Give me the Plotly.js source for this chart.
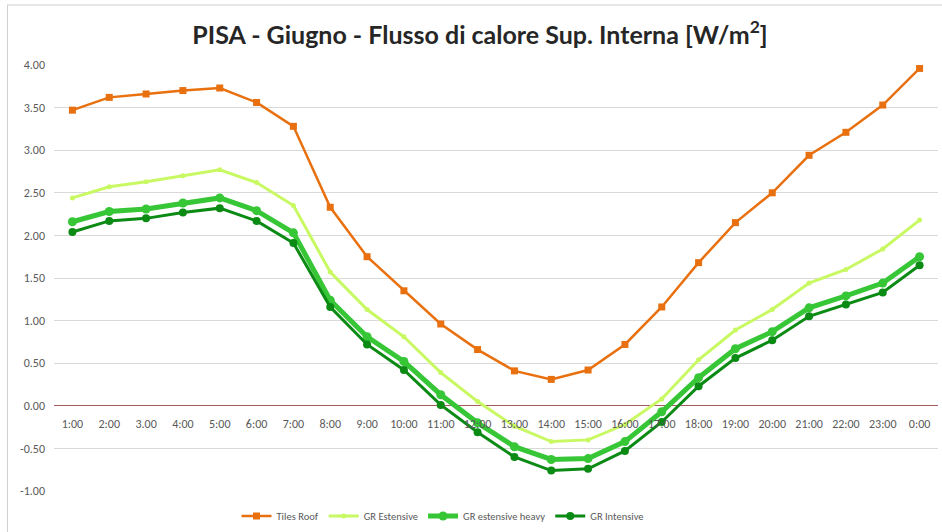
<!DOCTYPE html>
<html>
<head>
<meta charset="utf-8">
<script src="https://cdn.plot.ly/plotly-3.0.1.min.js"></script>
<style>html,body{margin:0;padding:0;background:#fff;}#chart{width:942px;height:532px;}</style>
</head>
<body>
<div id="chart"></div>
<script>
var hours = ["1:00","2:00","3.00","4:00","5:00","6:00","7:00","8:00","9:00","10:00","11:00","12:00","13:00","14:00","15:00","16:00","17:00","18:00","19:00","20:00","21:00","22:00","23:00","0:00"];
var tilesRoof = [3.47,3.62,3.66,3.70,3.73,3.56,3.28,2.33,1.75,1.35,0.96,0.66,0.41,0.31,0.42,0.72,1.16,1.68,2.15,2.50,2.94,3.21,3.53,3.96];
var grEstensive = [2.44,2.57,2.63,2.70,2.77,2.62,2.35,1.57,1.13,0.81,0.39,0.05,-0.24,-0.42,-0.40,-0.22,0.08,0.54,0.89,1.13,1.44,1.60,1.84,2.18];
var grEstensiveHeavy = [2.16,2.28,2.31,2.38,2.44,2.29,2.03,1.24,0.81,0.52,0.13,-0.20,-0.48,-0.63,-0.62,-0.42,-0.07,0.33,0.67,0.87,1.15,1.29,1.44,1.75];
var grIntensive = [2.04,2.17,2.20,2.27,2.32,2.17,1.91,1.16,0.72,0.42,0.01,-0.31,-0.60,-0.76,-0.74,-0.53,-0.19,0.23,0.56,0.77,1.05,1.19,1.33,1.65];
var yTicks = [4,3.5,3,2.5,2,1.5,1,0.5,0,-0.5,-1];
var yTickText = ["4.00","3.50","3.00","2.50","2.00","1.50","1.00","0.50","0.00","-0.50","-1.00"];

function series(name, y, color, width, symbol, size) {
  return {x: hours, y: y, name: name, type: 'scatter', mode: 'lines+markers',
    line: {color: color, width: width}, marker: {color: color, symbol: symbol, size: size}};
}
var data = [
  series('Tiles Roof', tilesRoof, '#e8700f', 2.5, 'square', 7),
  series('GR Estensive', grEstensive, '#c8f862', 3, 'circle', 5),
  series('GR estensive heavy', grEstensiveHeavy, '#36c636', 5, 'circle', 9),
  series('GR Intensive', grIntensive, '#0b8a14', 3, 'circle', 8)
];
var W = 942, H = 532, L = 54, R = 4, T = 65, B = 41;
var pw = W - L - R, ph = H - T - B;
function px(x){ return (x - L) / pw; }
function py(y){ return (H - B - y) / ph; }
var layout = {
  width: W, height: H,
  margin: {l: L, r: R, t: T, b: B, pad: 0, autoexpand: false},
  paper_bgcolor: '#fff', plot_bgcolor: '#fff',
  font: {family: 'Carlito, Lato, "Liberation Sans", sans-serif', color: '#595959', size: 12},
  title: {text: 'PISA - Giugno - Flusso di calore Sup. Interna [W/m<sup>2</sup>]',
    font: {family: 'Lato, "Open Sans", sans-serif', size: 25, color: '#262626', weight: 700},
    x: 480 / W, xref: 'container', xanchor: 'center', y: 1 - 35 / H, yref: 'container', yanchor: 'middle'},
  xaxis: {type: 'category', range: [-0.5, 23.5], anchor: 'free', position: 0.2, showgrid: false, showline: false, zeroline: false,
    ticks: '', tickfont: {size: 12, color: '#595959'}, ticklabelstandoff: 9, fixedrange: true},
  yaxis: {range: [-1, 4], tickvals: yTicks, ticktext: yTickText, showgrid: true, gridcolor: '#d9d9d9', gridwidth: 1,
    zeroline: true, zerolinecolor: '#a35b5b', zerolinewidth: 1, showline: false, ticks: '',
    tickfont: {size: 12, color: '#595959'}, ticklabelstandoff: 8},
  showlegend: true,
  legend: {orientation: 'h', x: px(443), xanchor: 'center', y: py(516), yanchor: 'middle',
    font: {size: 10.5, color: '#595959'}, bgcolor: 'rgba(0,0,0,0)', itemwidth: 30, traceorder: 'normal'},
  shapes: [
    {type: 'line', xref: 'paper', yref: 'paper', x0: px(7), x1: px(942), y0: py(5), y1: py(5), line: {color: '#d0d0d0', width: 1}},
    {type: 'line', xref: 'paper', yref: 'paper', x0: px(7.5), x1: px(7.5), y0: py(5), y1: py(532), line: {color: '#d0d0d0', width: 1}}
  ]
};
Plotly.newPlot('chart', data, layout, {displayModeBar: false, staticPlot: true});
</script>
</body>
</html>
